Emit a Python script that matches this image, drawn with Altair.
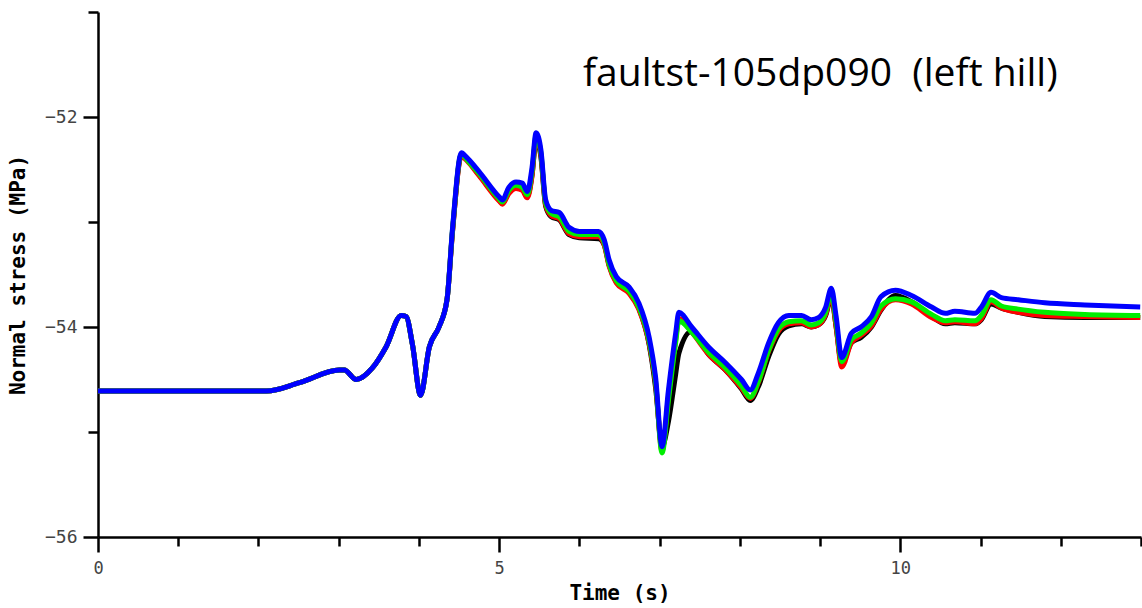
import altair as alt
import pandas as pd

# Time samples (s) shared by the four runs
time_s = [0.00, 2.10, 2.51, 3.01, 3.07, 3.22, 3.42, 3.59, 3.78, 3.84,
          3.92, 4.02, 4.13, 4.25, 4.35, 4.42, 4.53, 4.59, 4.75, 5.00,
          5.04, 5.12, 5.21, 5.29, 5.35, 5.41, 5.46, 5.52, 5.58, 5.65,
          5.75, 5.87, 6.00, 6.24, 6.31, 6.37, 6.46, 6.62, 6.74, 6.87,
          6.95, 7.03, 7.11, 7.20, 7.24, 7.40, 7.61, 7.82, 8.02, 8.13,
          8.23, 8.36, 8.48, 8.61, 8.77, 8.89, 8.98, 9.07, 9.14, 9.20,
          9.27, 9.39, 9.51, 9.64, 9.76, 9.94, 10.14, 10.39, 10.56, 10.68,
          10.93, 11.01, 11.13, 11.26, 11.47, 11.80, 12.30, 12.99]

# Normal stress (MPa) for each run
stress_black = [-54.61, -54.61, -54.53, -54.41, -54.41, -54.50, -54.39, -54.19, -53.89, -53.90,
                -54.17, -54.65, -54.19, -54.00, -53.74, -53.08, -52.36, -52.40, -52.55, -52.79,
                -52.82, -52.72, -52.67, -52.69, -52.76, -52.55, -52.22, -52.38, -52.85, -52.95,
                -52.98, -53.12, -53.15, -53.16, -53.22, -53.41, -53.57, -53.67, -53.82, -54.17,
                -54.58, -55.14, -54.90, -54.45, -54.25, -54.04, -54.26, -54.41, -54.59, -54.70,
                -54.57, -54.28, -54.07, -53.99, -53.97, -54.00, -53.98, -53.89, -53.72, -54.00,
                -54.35, -54.15, -54.10, -54.00, -53.84, -53.70, -53.76, -53.90, -53.97, -53.96,
                -53.97, -53.93, -53.78, -53.82, -53.86, -53.90, -53.91, -53.91]

stress_red = [-54.61, -54.61, -54.53, -54.41, -54.41, -54.50, -54.39, -54.19, -53.89, -53.90,
              -54.17, -54.65, -54.19, -54.00, -53.74, -53.08, -52.37, -52.41, -52.56, -52.80,
              -52.83, -52.73, -52.68, -52.70, -52.77, -52.56, -52.20, -52.36, -52.84, -52.94,
              -52.97, -53.11, -53.14, -53.14, -53.22, -53.42, -53.58, -53.68, -53.83, -54.16,
              -54.54, -55.18, -54.66, -54.12, -53.92, -54.05, -54.26, -54.41, -54.58, -54.68,
              -54.53, -54.23, -54.04, -53.97, -53.96, -54.00, -53.98, -53.88, -53.70, -54.00,
              -54.38, -54.15, -54.08, -53.99, -53.83, -53.74, -53.78, -53.91, -53.96, -53.95,
              -53.97, -53.92, -53.76, -53.82, -53.86, -53.89, -53.90, -53.91]

stress_green = [-54.61, -54.61, -54.53, -54.41, -54.41, -54.50, -54.39, -54.19, -53.89, -53.90,
                -54.17, -54.65, -54.19, -54.00, -53.74, -53.06, -52.35, -52.40, -52.54, -52.78,
                -52.81, -52.70, -52.65, -52.67, -52.74, -52.52, -52.18, -52.34, -52.82, -52.92,
                -52.95, -53.09, -53.12, -53.12, -53.20, -53.40, -53.56, -53.66, -53.81, -54.14,
                -54.52, -55.20, -54.70, -54.15, -53.94, -54.05, -54.24, -54.39, -54.56, -54.67,
                -54.52, -54.22, -54.02, -53.95, -53.94, -53.98, -53.96, -53.86, -53.67, -53.96,
                -54.33, -54.12, -54.06, -53.96, -53.80, -53.73, -53.76, -53.88, -53.94, -53.93,
                -53.94, -53.89, -53.74, -53.80, -53.83, -53.86, -53.88, -53.89]

stress_blue = [-54.61, -54.61, -54.53, -54.41, -54.41, -54.50, -54.39, -54.19, -53.89, -53.90,
               -54.17, -54.65, -54.19, -54.00, -53.74, -53.05, -52.34, -52.38, -52.52, -52.76,
               -52.79, -52.67, -52.62, -52.63, -52.71, -52.48, -52.15, -52.31, -52.79, -52.89,
               -52.91, -53.05, -53.09, -53.09, -53.17, -53.36, -53.52, -53.62, -53.77, -54.10,
               -54.48, -55.14, -54.60, -54.06, -53.86, -54.00, -54.19, -54.34, -54.50, -54.60,
               -54.44, -54.15, -53.96, -53.89, -53.89, -53.93, -53.91, -53.81, -53.63, -53.90,
               -54.29, -54.06, -54.00, -53.90, -53.71, -53.65, -53.70, -53.81, -53.87, -53.85,
               -53.87, -53.81, -53.67, -53.72, -53.74, -53.77, -53.79, -53.81]

runs = ["black", "red", "green", "blue"]
run_colors = ["#000000", "#ff0000", "#00ee00", "#0000ff"]
run_values = [stress_black, stress_red, stress_green, stress_blue]

x_ticks = list(range(0, 14))
y_ticks = [-56.0, -55.5, -55.0, -54.5, -54.0, -53.5, -53.0, -52.5, -52.0, -51.5, -51.0]

# two spaces kept apart with a no-break space so they are not collapsed
chart_title = "faultst-105dp090 \u00a0(left hill)"

rows = []
for run, vals in zip(runs, run_values):
    for t, v in zip(time_s, vals):
        rows.append({"run": run, "t": t, "stress": v})
df = pd.DataFrame(rows)

mono = "DejaVu Sans Mono"
y_major = "datum.value === -52 || datum.value === -54 || datum.value === -56"

x_enc = alt.X(
    "t:Q",
    scale=alt.Scale(domain=[0, 13], nice=False, zero=False),
    axis=alt.Axis(
        title="Time (s)",
        values=x_ticks,
        format="d",
        labelExpr="datum.value % 5 === 0 ? datum.label : ''",
        tickSize={"condition": {"test": "datum.value % 5 === 0", "value": 15}, "value": 9},
        tickWidth=2.5,
        tickColor="#000000",
        domainColor="#000000",
        domainWidth=2.5,
        grid=False,
        labelFont=mono,
        labelFontSize=17,
        labelColor="#444444",
        labelPadding=8,
        labelFlush=False,
        titleFont=mono,
        titleFontSize=21,
        titleFontWeight="bold",
        titleColor="#000000",
        titlePadding=6,
    ),
)

y_enc = alt.Y(
    "stress:Q",
    scale=alt.Scale(domain=[-56, -51], nice=False, zero=False),
    axis=alt.Axis(
        title="Normal stress (MPa)",
        values=y_ticks,
        format="d",
        labelExpr=f"({y_major}) ? datum.label : ''",
        tickSize={"condition": {"test": y_major, "value": 15}, "value": 10},
        tickWidth=2.5,
        tickColor="#000000",
        domainColor="#000000",
        domainWidth=2.5,
        grid=False,
        labelFont=mono,
        labelFontSize=18,
        labelColor="#444444",
        labelPadding=6,
        labelFlush=False,
        titleFont=mono,
        titleFontSize=21,
        titleFontWeight="bold",
        titleColor="#000000",
        titlePadding=16,
    ),
)

layers = []
for run, color in zip(runs, run_colors):
    layers.append(
        alt.Chart(df)
        .transform_filter(alt.datum.run == run)
        .mark_line(color=color, strokeWidth=5, clip=True, interpolate="monotone")
        .encode(x=x_enc, y=y_enc)
    )

title_layer = (
    alt.Chart(pd.DataFrame({"label": [chart_title]}))
    .mark_text(font="Open Sans", fontSize=39, align="left", baseline="middle", color="#000000")
    .encode(text="label:N", x=alt.value(485), y=alt.value(62))
)

chart = (
    alt.layer(*layers, title_layer)
    .properties(
        width=1043,
        height=525,
        autosize=alt.AutoSizeParams(type="none"),
        padding={"left": 98, "top": 12, "right": 1, "bottom": 71},
        background="#ffffff",
    )
    .configure_view(stroke=None)
)

chart.save("out.html", embed_options={"renderer": "svg", "actions": False})
